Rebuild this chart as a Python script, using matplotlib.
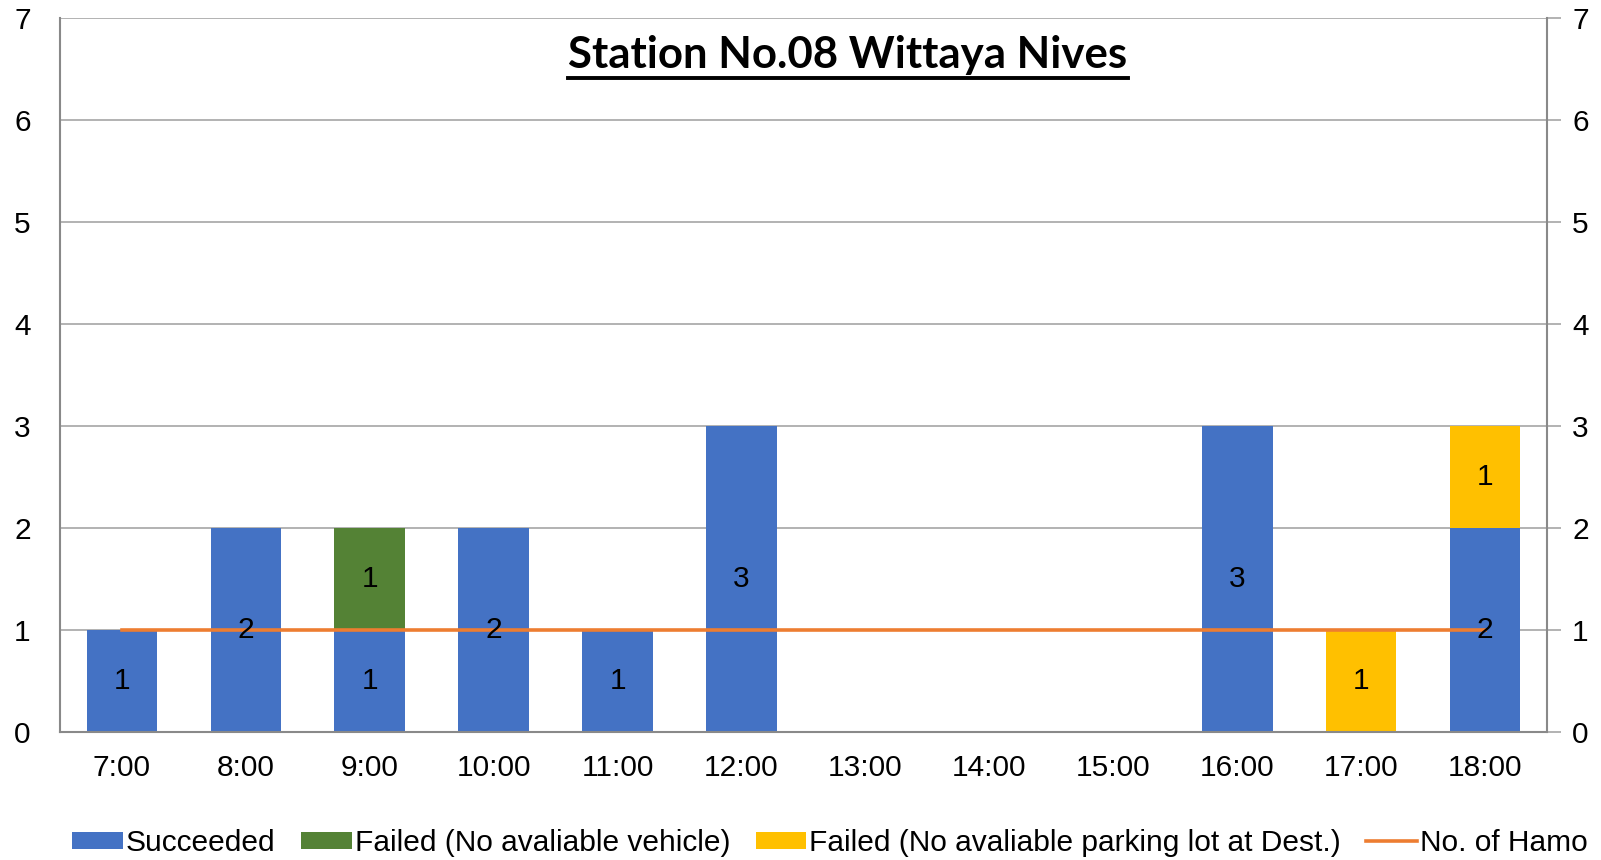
import numpy as np
import matplotlib
matplotlib.use('Agg')
import matplotlib.pyplot as plt
from matplotlib.lines import Line2D

# Data
hours = ['7:00', '8:00', '9:00', '10:00', '11:00', '12:00', '13:00',
         '14:00', '15:00', '16:00', '17:00', '18:00']
succeeded = [1, 2, 1, 2, 1, 3, 0, 0, 0, 3, 0, 2]
failed_vehicle = [0, 0, 1, 0, 0, 0, 0, 0, 0, 0, 0, 0]
failed_parking = [0, 0, 0, 0, 0, 0, 0, 0, 0, 0, 1, 1]
no_of_hamo = [1, 1, 1, 1, 1, 1, 1, 1, 1, 1, 1, 1]

plt.rcParams['font.family'] = ['Liberation Sans', 'DejaVu Sans']
grid_c = '#a6a6a6'
spine_c = '#898989'
fs = 21.5

fig = plt.figure(figsize=(16.01, 8.6), dpi=100)
ax = fig.add_axes([60 / 1601, 1 - 732 / 860, (1547 - 60) / 1601, (732 - 18) / 860])

x = np.arange(len(hours))
w = 0.57
succeeded, failed_vehicle, failed_parking = (np.array(v) for v in (succeeded, failed_vehicle, failed_parking))
series = [(succeeded, '#4472C4', 'Succeeded'),
          (failed_vehicle, '#548235', 'Failed (No avaliable vehicle)'),
          (failed_parking, '#FFC000', 'Failed (No avaliable parking lot at Dest.)')]
bottom = np.zeros(len(hours))
handles = []
for vals, col, lab in series:
    bars = ax.bar(x, vals, w, bottom=bottom, color=col, label=lab, zorder=2)
    handles.append(bars)
    for xi, v, b in zip(x, vals, bottom):
        if v > 0:
            ax.text(xi, b + v / 2, str(v), ha='center', va='center', fontsize=fs, zorder=5)
    bottom = bottom + vals

line, = ax.plot(x, no_of_hamo, color='#ED7D31', lw=2.6, zorder=4, label='No. of Hamo')

ax.set_xlim(-0.5, len(hours) - 0.5)
ax.set_ylim(0, 7)
ax.set_yticks(range(8))
ax.set_xticks(x)
ax.set_xticklabels(hours)
ax.tick_params(axis='x', length=0, pad=16, labelsize=fs)
ax.tick_params(axis='y', length=0, pad=21, labelsize=fs)
ax.yaxis.grid(True, color=grid_c, lw=1.2, zorder=0)
ax.set_axisbelow(True)
for s in ['top', 'right']:
    ax.spines[s].set_visible(False)
for s in ['left', 'bottom']:
    ax.spines[s].set_color(spine_c)
    ax.spines[s].set_linewidth(1.5)

ax2 = ax.twinx()
ax2.set_ylim(0, 7)
ax2.set_yticks(range(8))
ax2.tick_params(axis='y', length=10, width=1.2, color=grid_c, pad=8, labelsize=fs)
for s in ['top', 'left', 'bottom']:
    ax2.spines[s].set_visible(False)
ax2.spines['right'].set_color(spine_c)
ax2.spines['right'].set_linewidth(1.5)

# Title with underline
title = fig.text(848 / 1601, 1 - 55 / 860, 'Station No.08 Wittaya Nives', ha='center', va='center',
                 fontsize=31.5, fontweight='bold', family=['Lato', 'DejaVu Sans'])
fig.canvas.draw()
bb = title.get_window_extent().transformed(fig.transFigure.inverted())
fig.add_artist(Line2D([bb.x0, bb.x1], [bb.y0 - 0.004, bb.y0 - 0.004], color='black', lw=2.8,
                      transform=fig.transFigure))

fig.legend(handles + [line], [h.get_label() for h in handles] + ['No. of Hamo'],
           loc='center', bbox_to_anchor=(830 / 1601, 1 - 843 / 860), ncol=4, frameon=False,
           fontsize=fs, handlelength=1.7, handleheight=0.5, handletextpad=0.1,
           columnspacing=0.85, borderaxespad=0)

fig.savefig('out.png', dpi=100)
